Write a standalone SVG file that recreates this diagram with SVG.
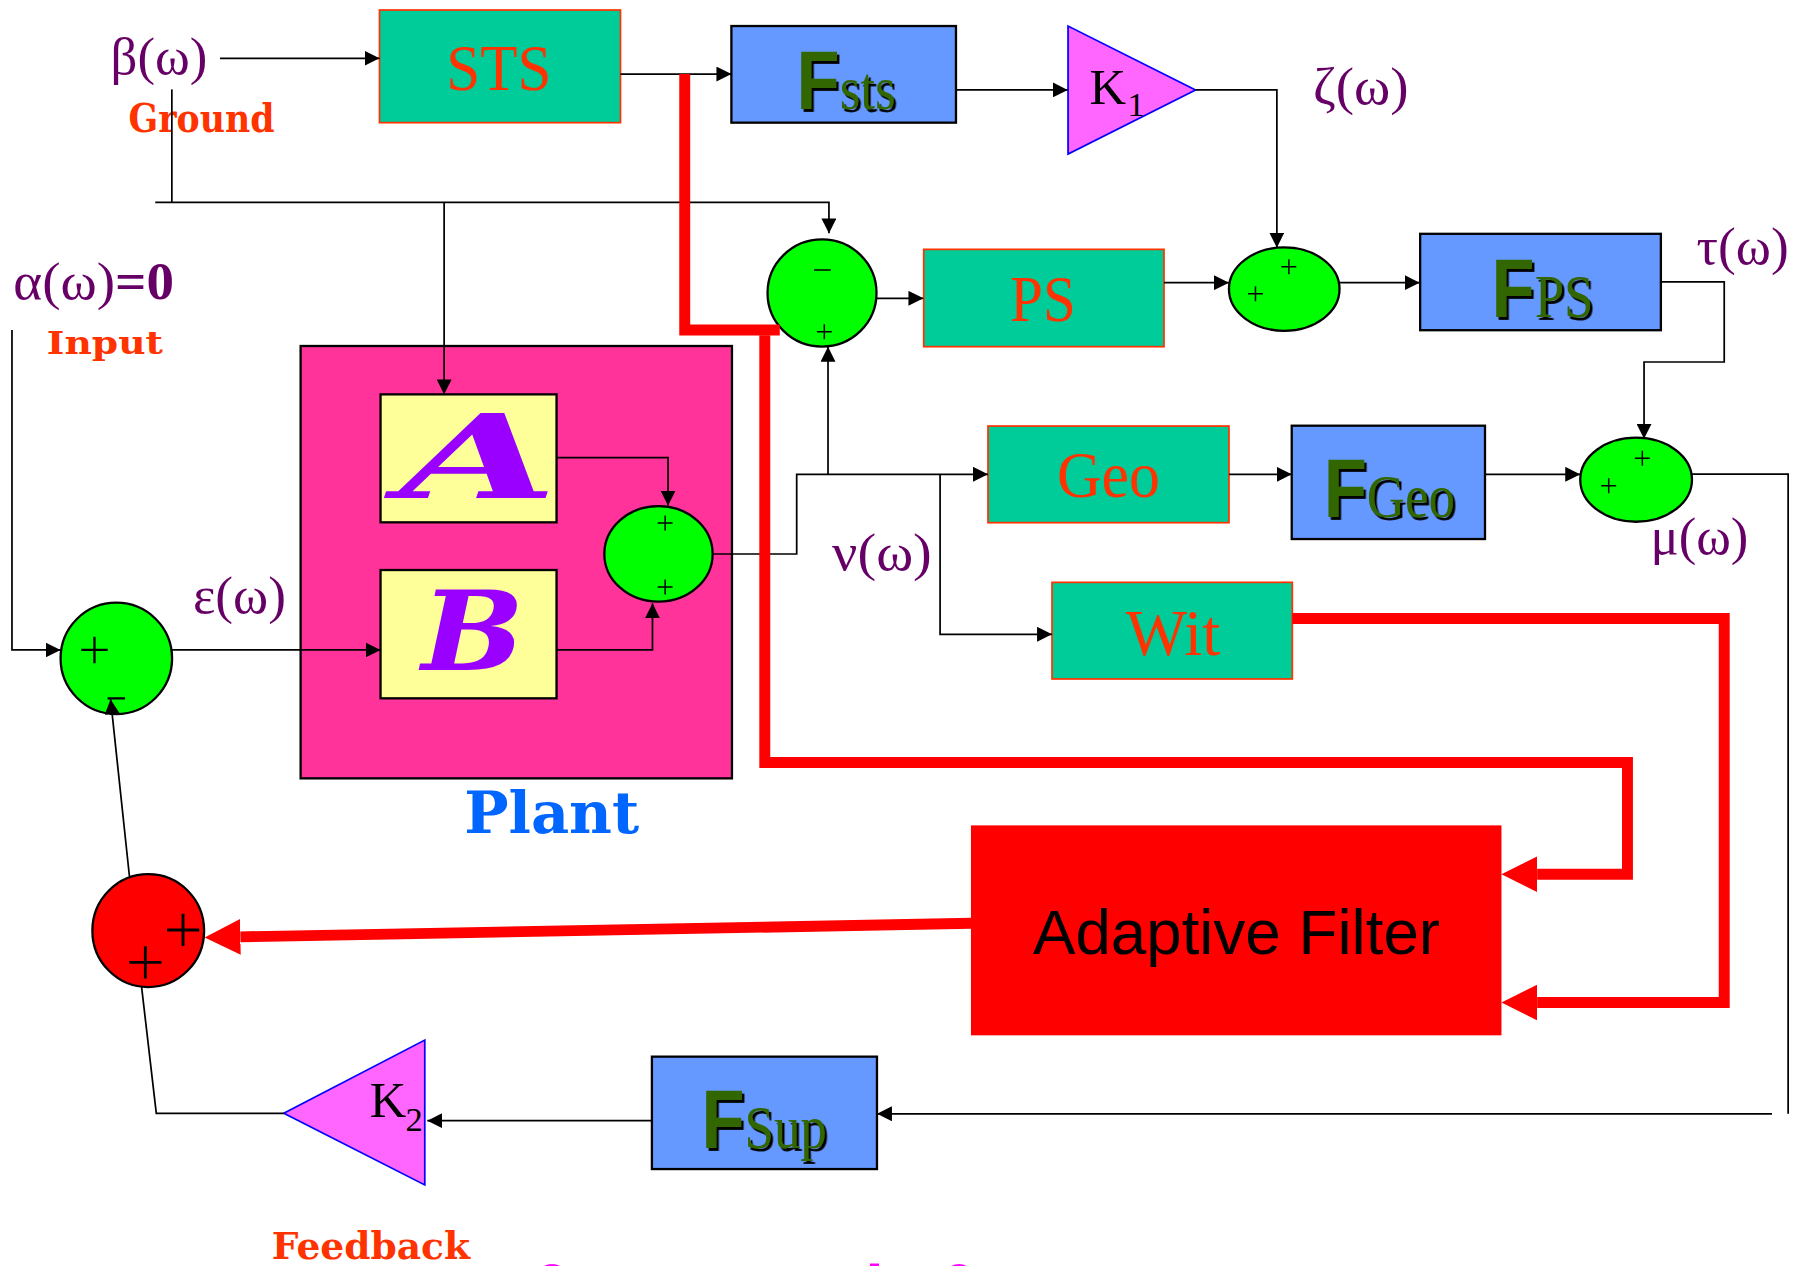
<svg xmlns="http://www.w3.org/2000/svg" width="1806" height="1266" viewBox="0 0 1806 1266">
<defs>
<style>
.lbl{font-family:"Liberation Serif","Times New Roman",serif;fill:#FF3300;font-size:57px}
.gr{font-family:"Liberation Serif","Times New Roman",serif;fill:#660066;font-size:46px}
.F{font-family:"Liberation Sans",Arial,sans-serif;font-weight:bold;fill:#336600;font-size:72px;filter:url(#sh)}
.sub{font-family:"Liberation Serif","Times New Roman",serif;font-weight:normal;font-size:54px}
.deco{font-family:"DejaVu Serif",serif;font-weight:bold;fill:#FF3300}
.k{font-family:"Liberation Serif","Times New Roman",serif;fill:#000}
.gbox{fill:#00CC99;stroke:#FF3300;stroke-width:1.5}
.bbox{fill:#6699FF;stroke:#000;stroke-width:2}
.ybox{fill:#FFFF99;stroke:#000;stroke-width:2}
.sum{fill:#00FF00;stroke:#000;stroke-width:2}
.tri{fill:#FF66FF;stroke:#0000FF;stroke-width:1.5}
.ln{fill:none;stroke:#000;stroke-width:1.5}
.arr{marker-end:url(#ah)}
.red{fill:none;stroke:#FF0000;stroke-width:9.5;stroke-linejoin:miter}
.rarr{marker-end:url(#rh)}
.sign{fill:none;stroke:#000;stroke-width:1.3}
.script{font-family:"DejaVu Serif",serif;font-weight:bold;font-style:italic;fill:#9900FF}
</style>
<filter id="sh" x="-20%" y="-20%" width="150%" height="150%">
<feDropShadow dx="2.5" dy="2.5" stdDeviation="0" flood-color="#000" flood-opacity="1"/>
</filter>
<marker id="ah" markerUnits="userSpaceOnUse" viewBox="0 0 13 13" refX="13" refY="6.5" markerWidth="13" markerHeight="13" orient="auto">
<path d="M0,0 L13,6.5 L0,13 z" fill="#000"/>
</marker>
<marker id="rh" markerUnits="userSpaceOnUse" viewBox="0 0 31 31" refX="0" refY="15.5" markerWidth="31" markerHeight="31" orient="auto">
<path d="M0,0 L31,15.5 L0,31 z" fill="#FF0000"/>
</marker>
</defs>
<rect width="1806" height="1266" fill="#fff"/>
<g transform="scale(1.151786)">

<g id="plant">
<rect x="261" y="300.4" width="374.5" height="375.4" fill="#FF3399" stroke="#000" stroke-width="2"/>
<text x="403" y="723" class="deco" style="fill:#0066FF;font-size:51px" textLength="152" lengthAdjust="spacingAndGlyphs">Plant</text>
</g>
<g id="blockA">
<rect x="330.4" y="342.4" width="152.8" height="111.1" class="ybox"/>
<text x="347" y="432.6" class="script" style="font-size:100px" textLength="137" lengthAdjust="spacingAndGlyphs">A</text>
</g>
<g id="blockB">
<rect x="330.4" y="494.9" width="152.8" height="111.4" class="ybox"/>
<text x="366" y="581.7" class="script" style="font-size:96px" textLength="89" lengthAdjust="spacingAndGlyphs">B</text>
</g>
<g id="sumPlant">
<ellipse cx="571.7" cy="480.9" rx="47" ry="41.5" class="sum"/>
<path class="sign" d="M571,454 h13 M577.5,447.5 v13 M571,509.7 h13 M577.5,503.2 v13"/>
</g>

<g id="beta"><text x="96" y="64" class="gr" textLength="84" lengthAdjust="spacingAndGlyphs">β(ω)</text>
<text x="111.6" y="115" class="deco" style="font-size:34px" textLength="126.8" lengthAdjust="spacingAndGlyphs">Ground</text></g>
<g id="alpha"><text x="11.6" y="260" class="gr" textLength="139.4" lengthAdjust="spacingAndGlyphs">α(ω)<tspan font-weight="bold">=0</tspan></text>
<text x="40.7" y="307" class="deco" style="font-size:28px" textLength="100.8" lengthAdjust="spacingAndGlyphs">Input</text></g>

<g id="STS">
<rect x="329.5" y="8.7" width="209.2" height="97.8" class="gbox"/>
<text x="387.5" y="78" class="lbl" textLength="91.2" lengthAdjust="spacingAndGlyphs">STS</text>
</g>
<g id="Fsts">
<rect x="635" y="22.6" width="195" height="83.9" class="bbox"/>
<text class="F" transform="translate(691.6,95) scale(0.85,1)">F<tspan class="sub">sts</tspan></text>
</g>
<g id="K1">
<polygon points="927.3,22.6 927.3,133.7 1038,78.1" class="tri"/>
<text x="946" y="90" class="k" style="font-size:44px">K</text>
<text x="979" y="101" class="k" style="font-size:30px">1</text>
</g>
<g id="zeta"><text x="1140" y="90" class="gr" textLength="83" lengthAdjust="spacingAndGlyphs">ζ(ω)</text></g>

<g id="sum1">
<ellipse cx="713.7" cy="254.4" rx="47.3" ry="46.5" class="sum"/>
<path class="sign" d="M706.7,234.4 h14.5 M709.2,288 h13 M715.7,281.5 v13"/>
</g>
<g id="PS">
<rect x="802" y="216.5" width="208.6" height="84.5" class="gbox"/>
<text x="877" y="279" class="lbl" textLength="57" lengthAdjust="spacingAndGlyphs">PS</text>
</g>
<g id="sum2">
<ellipse cx="1115" cy="251" rx="48" ry="36.2" class="sum"/>
<path class="sign" d="M1112.5,231.5 h13 M1119,225 v13 M1083.5,255 h13 M1090,248.5 v13"/>
</g>
<g id="FPS">
<rect x="1233" y="203" width="209" height="83.7" class="bbox"/>
<text class="F" transform="translate(1295,275) scale(0.85,1)">F<tspan class="sub">PS</tspan></text>
</g>
<g id="tau"><text x="1473" y="229" class="gr" textLength="80" lengthAdjust="spacingAndGlyphs">τ(ω)</text></g>

<g id="Geo">
<rect x="857.8" y="369.9" width="209.2" height="83.9" class="gbox"/>
<text x="917.6" y="431.5" class="lbl" textLength="89.4" lengthAdjust="spacingAndGlyphs">Geo</text>
</g>
<g id="FGeo">
<rect x="1121.5" y="369.6" width="167.8" height="98.4" class="bbox"/>
<text class="F" transform="translate(1149.3,448.6) scale(0.85,1)">F<tspan class="sub">Geo</tspan></text>
</g>
<g id="sum3">
<ellipse cx="1420.5" cy="416.5" rx="48.5" ry="36.5" class="sum"/>
<path class="sign" d="M1419.4,397.9 h13 M1425.9,391.4 v13 M1390.2,421.7 h13 M1396.7,415.2 v13"/>
</g>
<g id="mu"><text x="1433" y="481" class="gr" textLength="85" lengthAdjust="spacingAndGlyphs">μ(ω)</text></g>
<g id="nu"><text x="722.4" y="495" class="gr" textLength="86.6" lengthAdjust="spacingAndGlyphs">ν(ω)</text></g>
<g id="Wit">
<rect x="913.4" y="505.6" width="208.6" height="83.9" class="gbox"/>
<text x="977.3" y="568.7" class="lbl" textLength="82.2" lengthAdjust="spacingAndGlyphs">Wit</text>
</g>

<g id="sumIn">
<ellipse cx="101" cy="571.6" rx="48.4" ry="48.4" class="sum"/>
<path class="sign" style="stroke-width:2" d="M70.5,564.3 h23 M82,552.8 v23 M93.4,606.3 h15.2"/>
</g>
<g id="eps"><text x="167.5" y="532.5" class="gr" textLength="80.8" lengthAdjust="spacingAndGlyphs">ε(ω)</text></g>

<g id="sumFb">
<ellipse cx="128.7" cy="808" rx="48.5" ry="49" fill="#FF0000" stroke="#000" stroke-width="2"/>
<path class="sign" style="stroke-width:2.5" d="M145,807.4 h28 M158.9,793.4 v28 M112.2,835.5 h28 M126.2,821.5 v28"/>
</g>
<g id="AdaptiveFilter">
<rect x="843" y="716.6" width="460.6" height="182.3" fill="#FF0000"/>
<text x="896.8" y="828.3" style="font-family:'Liberation Sans',Arial,sans-serif;font-size:55px;fill:#000" textLength="353.5" lengthAdjust="spacingAndGlyphs">Adaptive Filter</text>
</g>
<g id="FSup">
<rect x="566" y="917.4" width="195.4" height="97.6" class="bbox"/>
<text class="F" transform="translate(609,996.5) scale(0.85,1)">F<tspan class="sub">Sup</tspan></text>
</g>
<g id="K2">
<polygon points="368.8,903 368.8,1028.8 246.4,966.6" class="tri"/>
<text x="321" y="969.5" class="k" style="font-size:44px">K</text>
<text x="352" y="982" class="k" style="font-size:30px">2</text>
</g>
<g id="feedback"><text x="236" y="1093" class="deco" style="font-size:33px" textLength="172" lengthAdjust="spacingAndGlyphs">Feedback</text></g>

<g id="connectors">
<path class="ln arr" d="M191,50.6 H329.5"/>
<path class="ln arr" d="M538.7,64.3 H635"/>
<path class="ln arr" d="M830,78.1 H927"/>
<path class="ln arr" d="M1038,78.1 H1108.6 V215"/>
<path class="ln" d="M149.2,77.6 V175.7"/>
<path class="ln arr" d="M134.8,175.7 H719.7 V202.6"/>
<path class="ln arr" d="M385.6,175.7 V342.4"/>
<path class="ln arr" d="M761,259 H801.7"/>
<path class="ln arr" d="M1010.6,245.4 H1067"/>
<path class="ln arr" d="M1163,245.4 H1232.5"/>
<path class="ln arr" d="M1442,244.8 H1497 V314.3 H1427.4 V381"/>
<path class="ln arr" d="M1067,411.8 H1121.5"/>
<path class="ln arr" d="M1289.3,411.8 H1372"/>
<path class="ln" d="M1469,411.6 H1552.5 V967"/>
<path class="ln arr" d="M1538.5,967 H761.4"/>
<path class="ln arr" d="M566,973 H371"/>
<path class="ln" d="M246.4,966.6 H135.7 L122.9,856.6"/>
<path class="ln arr" d="M112.4,761 L96,607"/>
<path class="ln arr" d="M10.4,286.5 V564.3 H52.6"/>
<path class="ln arr" d="M149.4,564.3 H330.4"/>
<path class="ln arr" d="M483.2,397.4 H580 V439"/>
<path class="ln arr" d="M483.2,564.3 H566.5 V523.8"/>
<path class="ln arr" d="M618.7,481 H691.7 V411.8 H857.8"/>
<path class="ln arr" d="M718.9,411.8 V301"/>
<path class="ln arr" d="M816.2,411.8 V550.7 H913.4"/>
<path class="red" d="M594.5,64.3 V286.5 H677"/>
<path class="red rarr" d="M664,291 V662 H1413 V759 H1334.6"/>
<path class="red rarr" d="M1122,537 H1497 V870.4 H1334.6"/>
<path class="red rarr" d="M843.5,801.6 L208.7,813.4"/>
</g>
</g>
<g id="cutoff" fill="#FF00FF">
<ellipse cx="552" cy="1279" rx="16" ry="15"/>
<rect x="870" y="1263.5" width="9" height="3"/>
<ellipse cx="959" cy="1279" rx="15" ry="15"/>
</g>
</svg>
